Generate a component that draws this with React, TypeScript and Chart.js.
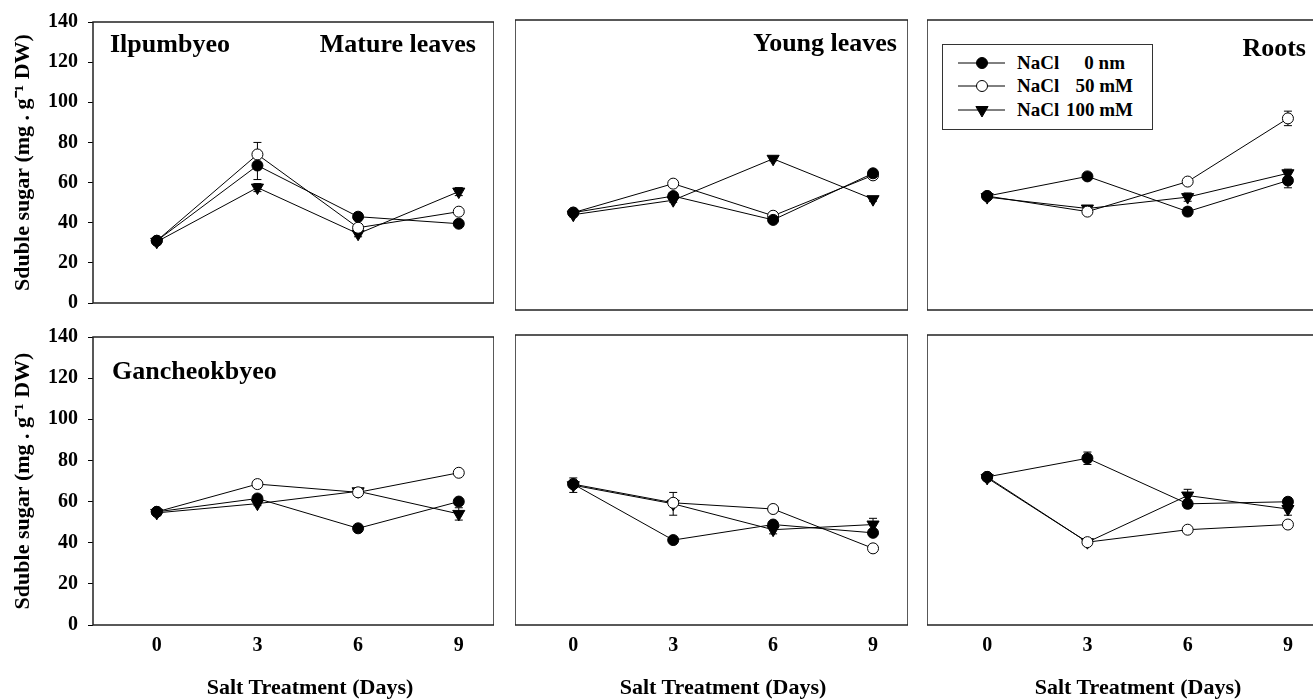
import React, { useEffect, useRef } from "react";
import { Chart, registerables } from "chart.js";

Chart.register(...registerables);

// ---------- data ----------
const days = [0, 3, 6, 9];
const seriesNames = ["NaCl 0 nm", "NaCl 50 mM", "NaCl 100 mM"];
const yTickMax = 140;
const yTickStep = 20;

// Ilpumbyeo — mature leaves
const ilMature0 = [31, 68.5, 43, 39.5];
const ilMature50 = [31, 74, 37.5, 45.5];
const ilMature100 = [30.5, 57.5, 34.5, 55.5];
const ilMatureErr0 = [1, 7, 2, 1.5];
const ilMatureErr50 = [1, 6, 1, 1];
const ilMatureErr100 = [1, 2, 1.5, 2];

// Ilpumbyeo — young leaves
const ilYoung0 = [47, 55, 43.5, 66];
const ilYoung50 = [47, 61, 45.5, 65];
const ilYoung100 = [46, 53, 73, 53.5];
const ilYoungErr0 = [1, 1.5, 1, 1.5];
const ilYoungErr50 = [1, 1, 1, 1.5];
const ilYoungErr100 = [1, 1, 1, 1];

// Ilpumbyeo — roots
const ilRoots0 = [55, 64.5, 47.5, 62.5];
const ilRoots50 = [55, 47.5, 62, 92.5];
const ilRoots100 = [54.5, 49, 54.5, 66];
const ilRootsErr0 = [1, 1.5, 2, 3.5];
const ilRootsErr50 = [1, 1, 1, 3.5];
const ilRootsErr100 = [1, 1, 2, 2];

// Gancheokbyeo — mature leaves
const gaMature0 = [55, 61.5, 47, 60];
const gaMature50 = [55, 68.5, 64.5, 74];
const gaMature100 = [54.5, 59, 65, 54];
const gaMatureErr0 = [1, 1.5, 1, 1.5];
const gaMatureErr50 = [1, 1, 1, 1];
const gaMatureErr100 = [1, 1, 1, 3];

// Gancheokbyeo — young leaves
const gaYoung0 = [68, 41, 48.5, 44.5];
const gaYoung50 = [68, 59, 56, 37];
const gaYoung100 = [67.5, 58.5, 46, 48.5];
const gaYoungErr0 = [1, 1, 1.5, 1.5];
const gaYoungErr50 = [1, 1, 1, 1];
const gaYoungErr100 = [3.5, 5.5, 2, 3];

// Gancheokbyeo — roots
const gaRoots0 = [71.5, 80.5, 58.5, 59.5];
const gaRoots50 = [71.5, 40, 46, 48.5];
const gaRoots100 = [71, 40, 62.5, 56];
const gaRootsErr0 = [1, 3, 2, 2];
const gaRootsErr50 = [1, 1, 1, 1];
const gaRootsErr100 = [1, 1, 3, 3];

// ---------- layout ----------
const FONT = "'Liberation Serif', 'Times New Roman', Times, serif";

const colGeom = [
  { left: 0, width: 494, yAxisWidth: 93, xMin: -1.9, xMax: 10.05 },
  { left: 515, width: 393, yAxisWidth: 0, xMin: -1.75, xMax: 10.05 },
  { left: 927, width: 391, yAxisWidth: 0, xMin: -1.8, xMax: 9.9 },
];
const rowGeom = [
  { top: 0, height: 325, padTop: 20, xAxisHeight: 15 },
  { top: 315, height: 385, padTop: 20, xAxisHeight: 75 },
];

const panels = [
  { row: 0, col: 0, series: [ilMature0, ilMature50, ilMature100], errs: [ilMatureErr0, ilMatureErr50, ilMatureErr100] },
  { row: 0, col: 1, series: [ilYoung0, ilYoung50, ilYoung100], errs: [ilYoungErr0, ilYoungErr50, ilYoungErr100] },
  { row: 0, col: 2, series: [ilRoots0, ilRoots50, ilRoots100], errs: [ilRootsErr0, ilRootsErr50, ilRootsErr100] },
  { row: 1, col: 0, series: [gaMature0, gaMature50, gaMature100], errs: [gaMatureErr0, gaMatureErr50, gaMatureErr100] },
  { row: 1, col: 1, series: [gaYoung0, gaYoung50, gaYoung100], errs: [gaYoungErr0, gaYoungErr50, gaYoungErr100] },
  { row: 1, col: 2, series: [gaRoots0, gaRoots50, gaRoots100], errs: [gaRootsErr0, gaRootsErr50, gaRootsErr100] },
];

const seriesStyle = [
  { pointStyle: "circle", radius: 5.5, fill: "#000", rotation: 0 },
  { pointStyle: "circle", radius: 5.5, fill: "#fff", rotation: 0 },
  { pointStyle: "triangle", radius: 7, fill: "#000", rotation: 180 },
];

const framePlugin = {
  id: "frame",
  afterDraw(chart: any) {
    const a = chart.chartArea;
    const ctx = chart.ctx;
    ctx.save();
    ctx.strokeStyle = "#222";
    ctx.lineWidth = 1.5;
    ctx.strokeRect(a.left, a.top, a.right - a.left, a.bottom - a.top);
    ctx.restore();
  },
};

const errorBarPlugin = {
  id: "errorBars",
  beforeDatasetsDraw(chart: any) {
    const ctx = chart.ctx;
    const yScale = chart.scales.y;
    ctx.save();
    ctx.strokeStyle = "#000";
    ctx.lineWidth = 1;
    chart.data.datasets.forEach((ds: any, di: number) => {
      const meta = chart.getDatasetMeta(di);
      const errs = ds.errorBars || [];
      meta.data.forEach((pt: any, i: number) => {
        const v = ds.data[i].y;
        const e = errs[i] || 0;
        if (!e) return;
        const yTop = yScale.getPixelForValue(v + e);
        const yBot = yScale.getPixelForValue(v - e);
        const x = pt.x;
        ctx.beginPath();
        ctx.moveTo(x, yTop);
        ctx.lineTo(x, yBot);
        ctx.moveTo(x - 4, yTop);
        ctx.lineTo(x + 4, yTop);
        ctx.moveTo(x - 4, yBot);
        ctx.lineTo(x + 4, yBot);
        ctx.stroke();
      });
    });
    ctx.restore();
  },
};

function Panel({ p }: { p: any }) {
  const ref = useRef<HTMLCanvasElement | null>(null);
  const cg = colGeom[p.col];
  const rg = rowGeom[p.row];
  const isLeft = p.col === 0;
  const isBottom = p.row === 1;

  useEffect(() => {
    if (!ref.current) return;
    const datasets = p.series.map((vals: number[], si: number) => ({
      label: seriesNames[si],
      data: days.map((d, i) => ({ x: d, y: vals[i] })),
      errorBars: p.errs[si],
      borderColor: "#000",
      borderWidth: 1,
      tension: 0,
      clip: false,
      pointStyle: seriesStyle[si].pointStyle,
      pointRadius: seriesStyle[si].radius,
      pointRotation: seriesStyle[si].rotation,
      pointBackgroundColor: seriesStyle[si].fill,
      pointBorderColor: "#000",
      pointBorderWidth: 1,
    }));
    const chart = new Chart(ref.current, {
      type: "line",
      data: { datasets },
      plugins: [errorBarPlugin, framePlugin],
      options: {
        animation: false,
        responsive: false,
        maintainAspectRatio: false,
        layout: { autoPadding: false, padding: { top: rg.padTop, left: 0, right: 0, bottom: 0 } },
        plugins: { legend: { display: false }, tooltip: { enabled: false } },
        scales: {
          x: {
            type: "linear",
            min: cg.xMin,
            max: cg.xMax,
            border: { display: false },
            grid: { display: false, drawTicks: false },
            afterBuildTicks: (s: any) => {
              s.ticks = days.map((d) => ({ value: d }));
            },
            afterFit: (s: any) => {
              s.height = rg.xAxisHeight;
            },
            ticks: {
              display: isBottom,
              padding: 9,
              color: "#000",
              font: { family: FONT, size: 20, weight: "bold" },
              callback: (v: any) => String(v),
            },
          },
          y: {
            type: "linear",
            min: 0,
            max: yTickMax,
            border: { display: false },
            grid: {
              display: isLeft,
              drawOnChartArea: false,
              drawTicks: isLeft,
              tickLength: 5,
              color: "#000",
              lineWidth: 1,
            },
            afterFit: (s: any) => {
              s.width = cg.yAxisWidth;
            },
            ticks: {
              display: isLeft,
              stepSize: yTickStep,
              padding: 10,
              color: "#000",
              font: { family: FONT, size: 20, weight: "bold" },
            },
            title: {
              display: isLeft,
              text: "Sduble sugar (mg . g\u207B\u00B9 DW)",
              color: "#000",
              font: { family: FONT, size: 22, weight: "bold" },
              padding: { top: 10, bottom: 0 },
            },
          },
        },
      } as any,
    });
    return () => chart.destroy();
  }, []);

  return (
    <canvas
      ref={ref}
      width={cg.width}
      height={rg.height}
      style={{ position: "absolute", left: cg.left, top: rg.top, width: cg.width, height: rg.height }}
    />
  );
}

const textBase: React.CSSProperties = {
  position: "absolute",
  fontFamily: FONT,
  fontWeight: "bold",
  color: "#000",
  lineHeight: 1,
  whiteSpace: "nowrap",
};

const panelTitles = [
  { text: "Ilpumbyeo", left: 110, top: 31 },
  { text: "Mature leaves", right: 1313 - 476, top: 31 },
  { text: "Young leaves", right: 1313 - 897, top: 30 },
  { text: "Roots", right: 1313 - 1306, top: 35 },
  { text: "Gancheokbyeo", left: 112, top: 358 },
];

const xTitleCenters = [310, 723, 1138];

const legendRows = [
  { y: 63, value: "0 nm", valueRight: 1125 },
  { y: 86, value: "50 mM", valueRight: 1133 },
  { y: 110, value: "100 mM", valueRight: 1133 },
];

function LegendMarker({ kind }: { kind: number }) {
  return (
    <svg width={48} height={24} style={{ position: "absolute", left: 958, top: -12 }}>
      <line x1={0} y1={12} x2={47} y2={12} stroke="#000" strokeWidth={1} />
      {kind === 0 && <circle cx={24} cy={12} r={5.5} fill="#000" stroke="#000" strokeWidth={1} />}
      {kind === 1 && <circle cx={24} cy={12} r={5.5} fill="#fff" stroke="#000" strokeWidth={1} />}
      {kind === 2 && <polygon points="24,19 17.9,8.5 30.1,8.5" fill="#000" stroke="#000" strokeWidth={1} />}
    </svg>
  );
}

export default function App() {
  return (
    <div
      style={{
        position: "absolute",
        left: 0,
        top: 0,
        width: 1313,
        height: 700,
        overflow: "hidden",
        background: "#fff",
      }}
    >
      {panels.map((p, i) => (
        <Panel key={i} p={p} />
      ))}
      {panelTitles.map((t, i) => (
        <div
          key={"t" + i}
          style={{
            ...textBase,
            fontSize: 26,
            top: t.top,
            ...(t.left !== undefined ? { left: t.left } : { right: t.right }),
          }}
        >
          {t.text}
        </div>
      ))}
      {xTitleCenters.map((c, i) => (
        <div
          key={"x" + i}
          style={{ ...textBase, fontSize: 22, top: 676, left: c - 150, width: 300, textAlign: "center" }}
        >
          Salt Treatment (Days)
        </div>
      ))}
      <div
        style={{
          position: "absolute",
          left: 942,
          top: 44,
          width: 211,
          height: 86,
          border: "1px solid #333",
          boxSizing: "border-box",
          background: "#fff",
        }}
      />
      {legendRows.map((r, i) => (
        <div key={"l" + i} style={{ position: "absolute", left: 0, top: r.y, width: 1313, height: 0 }}>
          <LegendMarker kind={i} />
          <div style={{ ...textBase, fontSize: 19, left: 1017, top: -10 }}>NaCl</div>
          <div style={{ ...textBase, fontSize: 19, right: 1313 - r.valueRight, top: -10 }}>{r.value}</div>
        </div>
      ))}
    </div>
  );
}
